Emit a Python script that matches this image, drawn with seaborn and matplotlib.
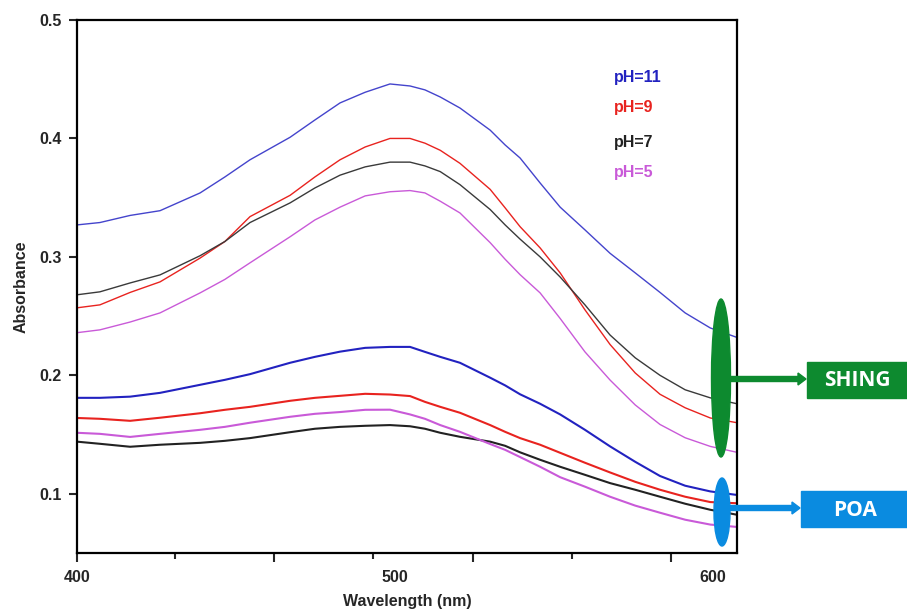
import numpy as np
import pandas as pd
import matplotlib.pyplot as plt
import matplotlib.transforms as mtransforms
from matplotlib.patches import Ellipse, FancyArrow, Rectangle
import seaborn as sns

# wavelengths (nm)
wl = [400, 407.2, 416.7, 426.1, 438.7, 446.5, 454.4, 467.0, 474.8, 482.7, 490.6, 498.4, 504.7, 509.4,
      514.2, 520.4, 529.9, 534.6, 539.3, 545.6, 551.9, 559.7, 567.6, 575.5, 583.3, 591.2, 599.1, 607.5]

# SHING (upper set)
shing_ph11 = [0.327, 0.329, 0.335, 0.339, 0.354, 0.3675, 0.382, 0.401, 0.4156, 0.430, 0.439, 0.446, 0.4443, 0.441,
              0.435, 0.4257, 0.407, 0.3945, 0.3835, 0.3624, 0.342, 0.3228, 0.303, 0.2865, 0.270, 0.2527, 0.240, 0.232]
shing_ph9 = [0.257, 0.2595, 0.270, 0.2789, 0.299, 0.313, 0.334, 0.352, 0.3675, 0.382, 0.3928, 0.400, 0.400, 0.396,
             0.390, 0.379, 0.357, 0.3414, 0.3255, 0.3076, 0.2865, 0.2553, 0.226, 0.202, 0.184, 0.1726, 0.164, 0.160]
shing_ph7 = [0.268, 0.2705, 0.278, 0.2848, 0.301, 0.313, 0.329, 0.3456, 0.3582, 0.369, 0.376, 0.380, 0.380, 0.3768,
             0.372, 0.361, 0.340, 0.327, 0.315, 0.300, 0.283, 0.2595, 0.234, 0.2148, 0.200, 0.1878, 0.181, 0.176]
shing_ph5 = [0.236, 0.2384, 0.245, 0.2527, 0.2696, 0.281, 0.295, 0.317, 0.3312, 0.342, 0.3515, 0.355, 0.356, 0.354,
             0.347, 0.3371, 0.312, 0.298, 0.285, 0.2696, 0.248, 0.2198, 0.196, 0.175, 0.1585, 0.1473, 0.140, 0.135]

# POA (lower set)
poa_ph11 = [0.181, 0.181, 0.182, 0.1852, 0.192, 0.1962, 0.201, 0.2106, 0.2156, 0.220, 0.2232, 0.224, 0.224, 0.2198,
            0.2156, 0.2106, 0.198, 0.1915, 0.184, 0.176, 0.167, 0.154, 0.140, 0.127, 0.115, 0.1068, 0.102, 0.099]
poa_ph9 = [0.164, 0.1633, 0.1616, 0.1642, 0.168, 0.1709, 0.1734, 0.1785, 0.181, 0.1827, 0.1844, 0.1838, 0.1825, 0.1776,
           0.1734, 0.1684, 0.158, 0.1523, 0.147, 0.1414, 0.1346, 0.1262, 0.118, 0.1101, 0.1034, 0.0975, 0.093, 0.092]
poa_ph7 = [0.144, 0.1422, 0.1397, 0.1414, 0.143, 0.1447, 0.147, 0.152, 0.1549, 0.1565, 0.1574, 0.158, 0.157, 0.1549,
           0.1515, 0.1481, 0.144, 0.1405, 0.135, 0.1287, 0.1228, 0.116, 0.109, 0.1034, 0.0975, 0.0916, 0.0865, 0.0823]
poa_ph5 = [0.1515, 0.1506, 0.148, 0.1506, 0.154, 0.1565, 0.160, 0.165, 0.1675, 0.169, 0.1709, 0.171, 0.167, 0.1633,
           0.158, 0.1523, 0.142, 0.1371, 0.131, 0.1228, 0.114, 0.106, 0.0975, 0.090, 0.084, 0.0781, 0.074, 0.072]

ph_labels = ['pH=11', 'pH=9', 'pH=7', 'pH=5']
shing_colors = ['#4444cc', '#e8231f', '#3a3a3a', '#c95ad8']
poa_colors = ['#2222c0', '#e8231f', '#222222', '#c95ad8']

x_major = [400, 461.9, 524.5, 586.8]
x_minor = [430.8, 493.1, 555.7]
x_labels = [400, 500, 600]
y_ticks = [0.1, 0.2, 0.3, 0.4, 0.5]

sns.set_style('ticks')
plt.rcParams['font.family'] = ['Liberation Sans', 'DejaVu Sans']

fig = plt.figure(figsize=(9.07, 6.11), dpi=100)
ax = fig.add_axes([77 / 907, 1 - 553 / 611, 660 / 907, 533 / 611])

sets = [([shing_ph11, shing_ph9, shing_ph7, shing_ph5], shing_colors, 1.0),
        ([poa_ph11, poa_ph9, poa_ph7, poa_ph5], poa_colors, 1.5)]
for curves, cols, lw in sets:
    for vals, col in zip(curves, cols):
        df = pd.DataFrame({'wl': wl, 'abs': vals})
        sns.lineplot(data=df, x='wl', y='abs', color=col, linewidth=lw,
                     estimator=None, sort=False, ax=ax, legend=False)

ax.set_xlim(400, 607.5)
ax.set_ylim(0.05, 0.5)
ax.set_yticks(y_ticks)
ax.set_yticklabels([f'{v:.1f}' for v in y_ticks], fontweight='bold', fontsize=11.5)
ax.set_xticks(x_major, labels=[])
ax.set_xticks(x_minor, minor=True)
ax.tick_params(axis='x', which='major', length=6.5, width=1.5, direction='out')
ax.tick_params(axis='x', which='minor', length=4.5, width=1.5, direction='out')
ax.tick_params(axis='y', length=6, width=1.5, direction='out', pad=5)

sec = ax.secondary_xaxis('bottom')
sec.set_xticks(x_labels, labels=[str(v) for v in x_labels])
sec.tick_params(length=0, pad=12, labelsize=11.5)
for t in sec.get_xticklabels():
    t.set_fontweight('bold')
sec.spines['bottom'].set_visible(False)

for s in ax.spines.values():
    s.set_linewidth(1.6)
    s.set_color('black')

ax.set_xlabel('')
sec.set_xlabel('Wavelength (nm)', fontsize=11.5, fontweight='bold', labelpad=7)
ax.set_ylabel('Absorbance', fontsize=11.5, fontweight='bold', labelpad=8)

# legend as coloured text
for lab, col, yy in zip(ph_labels, poa_colors, [0.893, 0.836, 0.771, 0.713]):
    ax.text(0.813, yy, lab, color=col, fontsize=11.5, fontweight='bold',
            transform=ax.transAxes, va='center', ha='left')

# annotation markers, in figure pixels (origin top-left)
px = mtransforms.Affine2D().scale(1 / 907, -1 / 611).translate(0, 1) + fig.transFigure
green = '#0d8a2f'
blue = '#0a8be0'
fig.add_artist(Ellipse((721, 378), 19, 158, color=green, transform=px, zorder=5))
fig.add_artist(FancyArrow(728, 379, 78, 0, width=5, head_width=12, head_length=8,
                          length_includes_head=True, color=green, transform=px, zorder=5))
fig.add_artist(Rectangle((807, 362), 100, 36, color=green, transform=px, zorder=5))
fig.text(857 / 907, 1 - 380 / 611, 'SHING', color='white', fontsize=15, fontweight='bold',
         ha='center', va='center', family=['Open Sans', 'DejaVu Sans'], zorder=6)

fig.add_artist(Ellipse((722, 512), 16, 68, color=blue, transform=px, zorder=5))
fig.add_artist(FancyArrow(728, 508, 72, 0, width=5, head_width=12, head_length=8,
                          length_includes_head=True, color=blue, transform=px, zorder=5))
fig.add_artist(Rectangle((801, 491), 106, 36, color=blue, transform=px, zorder=5))
fig.text(855 / 907, 1 - 510 / 611, 'POA', color='white', fontsize=15, fontweight='bold',
         ha='center', va='center', family=['Open Sans', 'DejaVu Sans'], zorder=6)

fig.savefig('out.png', dpi=100)
